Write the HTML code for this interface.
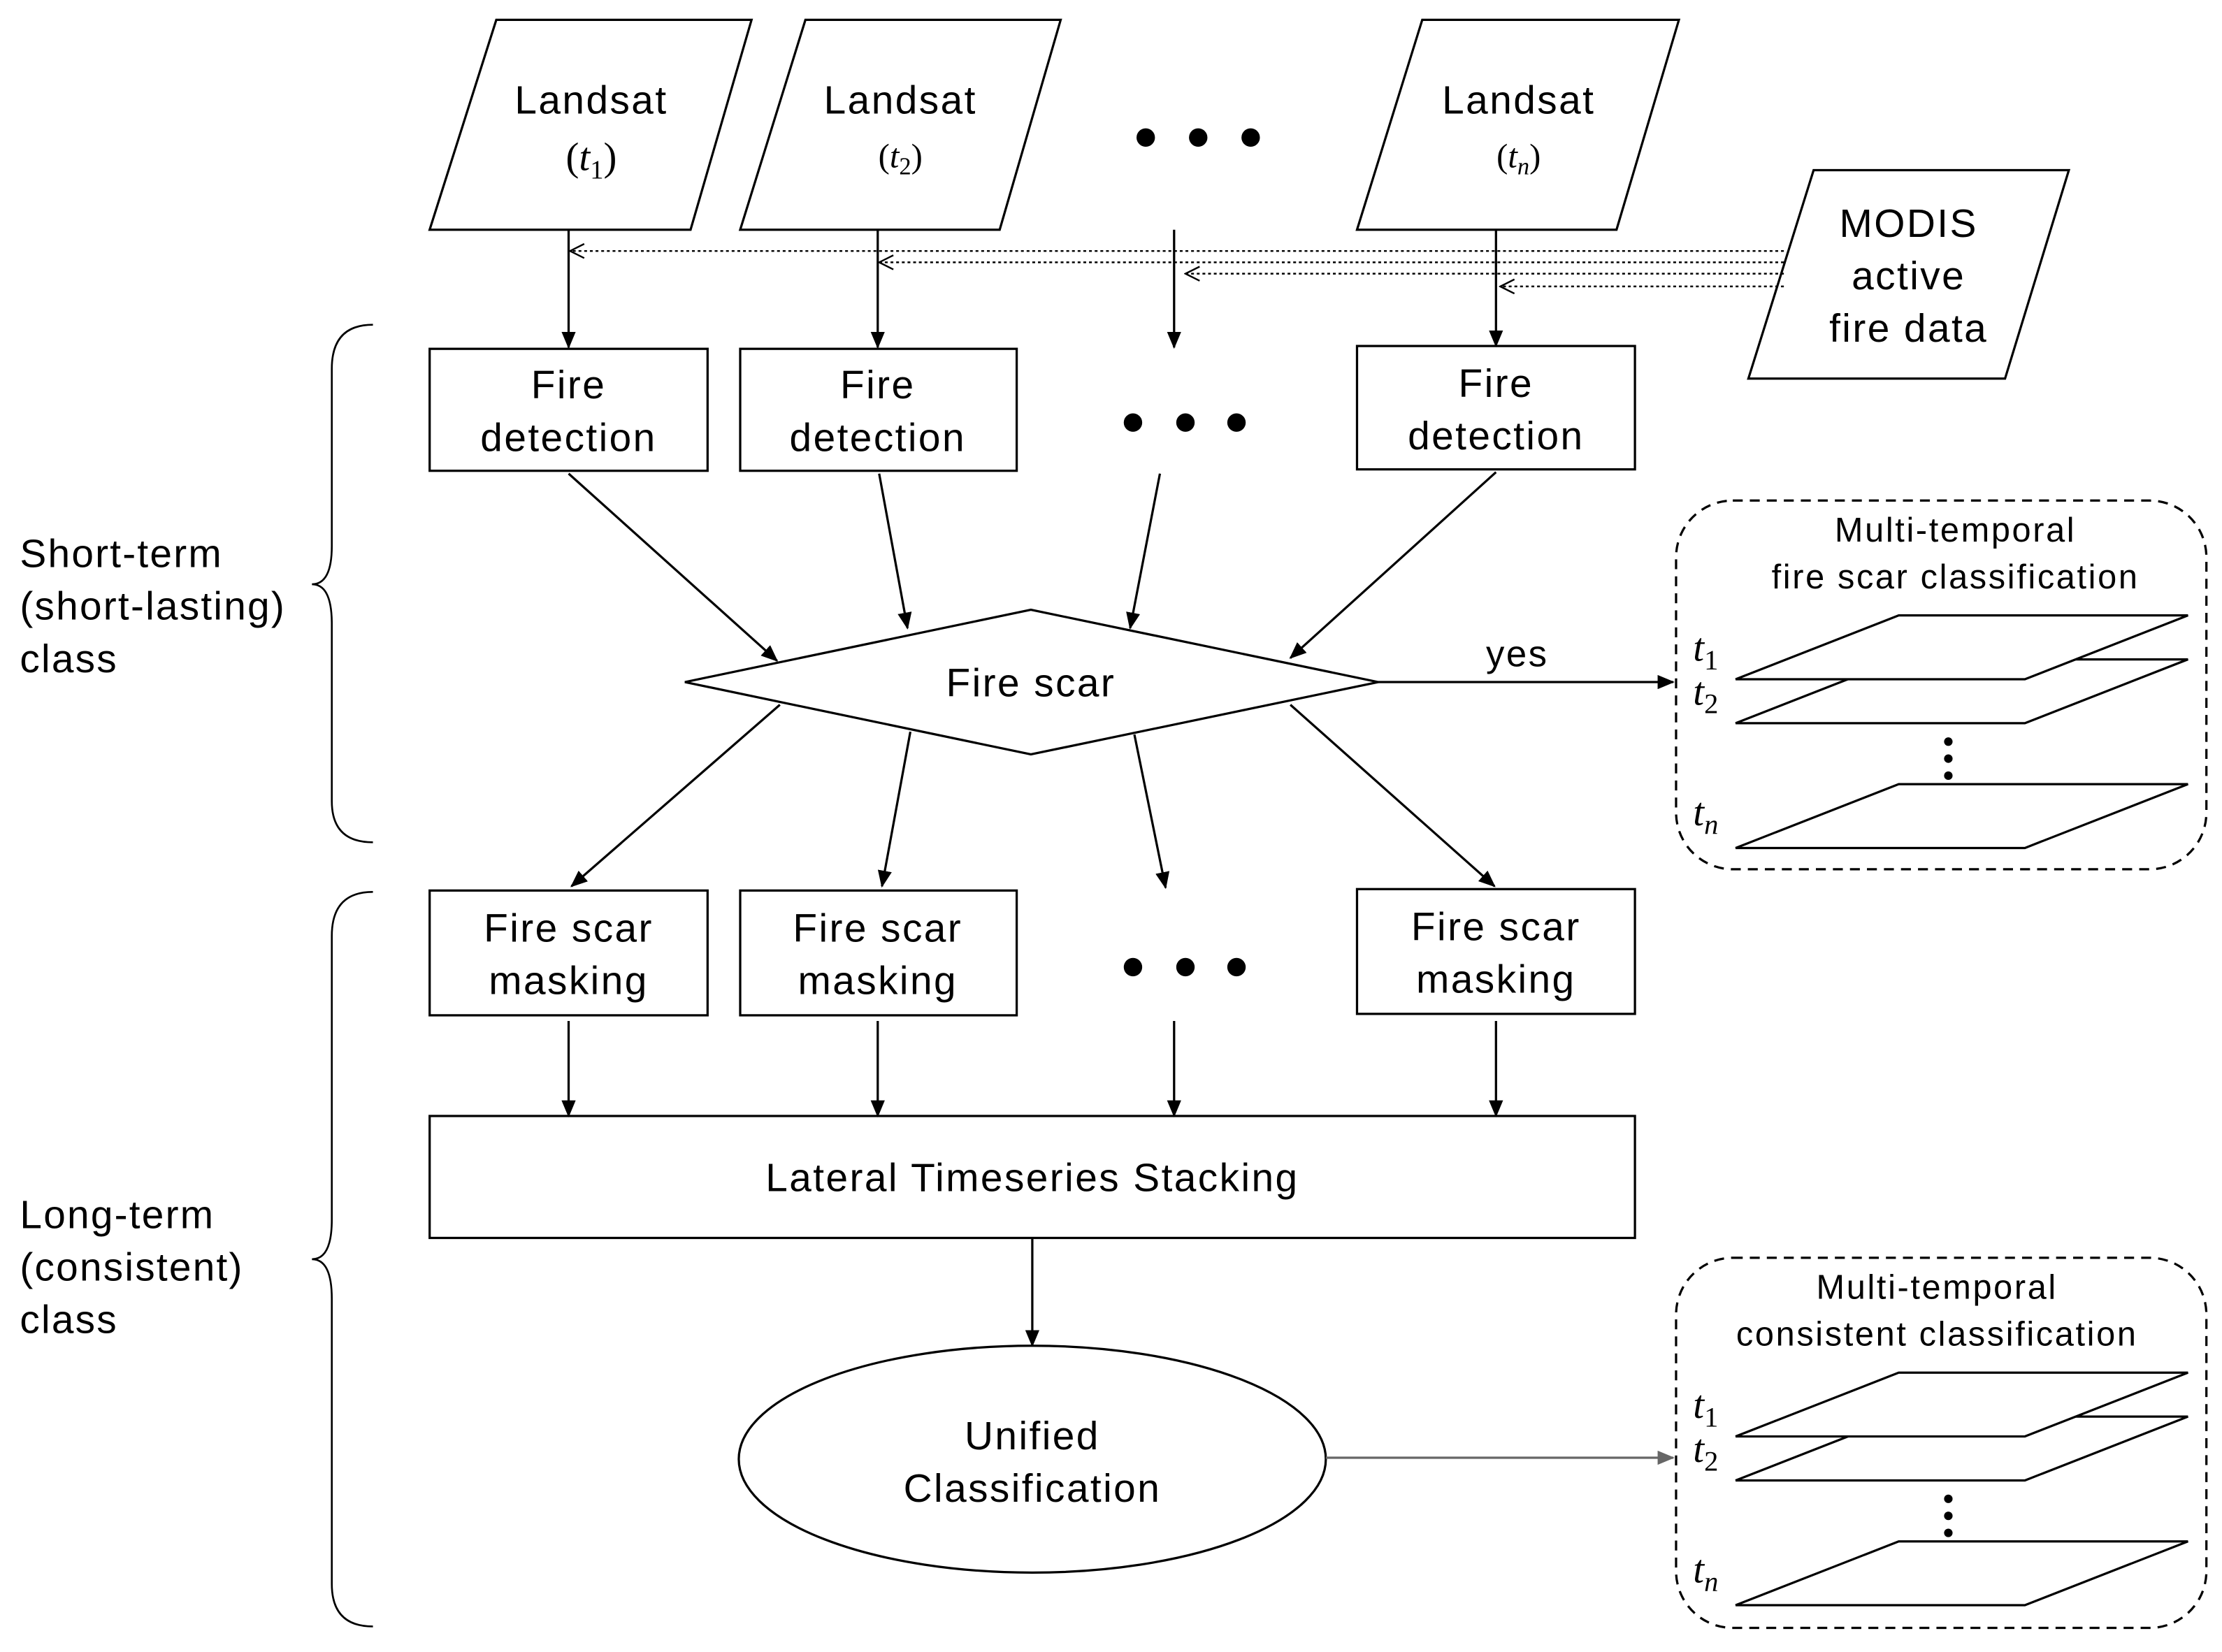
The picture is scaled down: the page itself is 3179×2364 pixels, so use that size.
<!DOCTYPE html>
<html><head><meta charset="utf-8"><style>html,body{margin:0;padding:0;background:#fff}svg{display:block}</style></head>
<body>
<svg width="3179" height="2364" viewBox="0 0 1567 1165" preserveAspectRatio="none" xmlns="http://www.w3.org/2000/svg" font-family="Liberation Sans, Arial, sans-serif">
<defs>
<marker id="a" markerWidth="12" markerHeight="10" refX="11" refY="5" orient="auto" markerUnits="userSpaceOnUse"><path d="M0,0 L12,5 L0,10 Z" fill="#000"/></marker>
<marker id="g" markerWidth="12" markerHeight="10" refX="11" refY="5" orient="auto" markerUnits="userSpaceOnUse"><path d="M0,0 L12,5 L0,10 Z" fill="#666"/></marker>
<marker id="o" markerWidth="12" markerHeight="12" refX="11" refY="6" orient="auto" markerUnits="userSpaceOnUse"><path d="M1,1 L11,6 L1,11" fill="none" stroke="#000" stroke-width="1.2"/></marker>
</defs>
<g fill="#fff" stroke="#000" stroke-width="1.6">
<polygon points="350,14 530,14 487,162 303,162"/>
<polygon points="568,14 748,14 705,162 522,162"/>
<polygon points="1003,14 1184,14 1140,162 957,162"/>
<polygon points="1279,120 1459,120 1414,267 1233,267"/>
<rect x="303" y="246" width="196" height="86"/>
<rect x="522" y="246" width="195" height="86"/>
<rect x="957" y="244" width="196" height="87"/>
<polygon points="483,481 727,430 972,481 727,532"/>
<rect x="303" y="628" width="196" height="88"/>
<rect x="522" y="628" width="195" height="88"/>
<rect x="957" y="627" width="196" height="88"/>
<rect x="303" y="787" width="850" height="86"/>
<ellipse cx="728" cy="1029" rx="207" ry="80"/>
</g>
<g fill="#000">
<circle cx="808" cy="97" r="6.5"/><circle cx="845" cy="97" r="6.5"/><circle cx="882" cy="97" r="6.5"/>
<circle cx="799" cy="298" r="6.5"/><circle cx="836" cy="298" r="6.5"/><circle cx="872" cy="298" r="6.5"/>
<circle cx="799" cy="682" r="6.5"/><circle cx="836" cy="682" r="6.5"/><circle cx="872" cy="682" r="6.5"/>
</g>
<g stroke="#000" stroke-width="1.2" stroke-dasharray="2,2" fill="none">
<line x1="1258" y1="177" x2="402" y2="177" marker-end="url(#o)"/>
<line x1="1258" y1="185" x2="620" y2="185" marker-end="url(#o)"/>
<line x1="1258" y1="193" x2="836" y2="193" marker-end="url(#o)"/>
<line x1="1258" y1="202" x2="1058" y2="202" marker-end="url(#o)"/>
</g>
<g stroke="#000" stroke-width="1.6" fill="none" marker-end="url(#a)">
<line x1="401" y1="162" x2="401" y2="245"/>
<line x1="619" y1="162" x2="619" y2="245"/>
<line x1="828" y1="162" x2="828" y2="245"/>
<line x1="1055" y1="162" x2="1055" y2="244"/>
<line x1="401" y1="334" x2="548" y2="466"/>
<line x1="620" y1="334" x2="640" y2="443"/>
<line x1="818" y1="334" x2="797" y2="443"/>
<line x1="1055" y1="333" x2="910" y2="464"/>
<line x1="972" y1="481" x2="1180" y2="481"/>
<line x1="550" y1="497" x2="403" y2="625"/>
<line x1="642" y1="516" x2="622" y2="625"/>
<line x1="800" y1="518" x2="822" y2="626"/>
<line x1="910" y1="497" x2="1054" y2="625"/>
<line x1="401" y1="720" x2="401" y2="787"/>
<line x1="619" y1="720" x2="619" y2="787"/>
<line x1="828" y1="720" x2="828" y2="787"/>
<line x1="1055" y1="720" x2="1055" y2="787"/>
<line x1="728" y1="873" x2="728" y2="949"/>
</g>
<line x1="935" y1="1028" x2="1180" y2="1028" stroke="#666" stroke-width="1.6" marker-end="url(#g)"/>
<g fill="none" stroke="#000" stroke-width="1.6" stroke-dasharray="7,5">
<rect x="1182" y="353" width="374" height="260" rx="40"/>
<rect x="1182" y="887" width="374" height="261" rx="40"/>
</g>
<g fill="#fff" stroke="#000" stroke-width="1.6">
<polygon points="1339,465 1543,465 1428,510 1224,510"/>
<polygon points="1339,434 1543,434 1428,479 1224,479"/>
<polygon points="1339,553 1543,553 1428,598 1224,598"/>
<polygon points="1339,999 1543,999 1428,1044 1224,1044"/>
<polygon points="1339,968 1543,968 1428,1013 1224,1013"/>
<polygon points="1339,1087 1543,1087 1428,1132 1224,1132"/>
</g>
<g fill="#000">
<circle cx="1374" cy="523" r="3"/><circle cx="1374" cy="535" r="3"/><circle cx="1374" cy="547" r="3"/>
<circle cx="1374" cy="1057" r="3"/><circle cx="1374" cy="1069" r="3"/><circle cx="1374" cy="1081" r="3"/>
</g>
<g fill="none" stroke="#000" stroke-width="1.3">
<path d="M263,229 Q234,229 234,260 L234,385 Q234,412 220,412 Q234,412 234,440 L234,565 Q234,594 263,594"/>
<path d="M263,629 Q234,629 234,660 L234,860 Q234,888 220,888 Q234,888 234,916 L234,1117 Q234,1147 263,1147"/>
</g>
<g font-size="28" letter-spacing="1.2" text-anchor="middle" fill="#000">
<text x="417" y="80">Landsat</text>
<text x="635" y="80">Landsat</text>
<text x="1071" y="80">Landsat</text>
<text x="1346" y="167">MODIS</text>
<text x="1346" y="204">active</text>
<text x="1346" y="241">fire data</text>
<text x="401" y="281">Fire</text><text x="401" y="318">detection</text>
<text x="619" y="281">Fire</text><text x="619" y="318">detection</text>
<text x="1055" y="280">Fire</text><text x="1055" y="317">detection</text>
<text x="727" y="491">Fire scar</text>
<text x="1070" y="470" font-size="26">yes</text>
<text x="401" y="664">Fire scar</text><text x="401" y="701">masking</text>
<text x="619" y="664">Fire scar</text><text x="619" y="701">masking</text>
<text x="1055" y="663">Fire scar</text><text x="1055" y="700">masking</text>
<text x="728" y="840">Lateral Timeseries Stacking</text>
<text x="728" y="1022">Unified</text>
<text x="728" y="1059">Classification</text>
<text x="1379" y="382" font-size="24" letter-spacing="1.3">Multi-temporal</text>
<text x="1379" y="415" font-size="24" letter-spacing="1.3">fire scar classification</text>
<text x="1366" y="916" font-size="24" letter-spacing="1.3">Multi-temporal</text>
<text x="1366" y="949" font-size="24" letter-spacing="1.3">consistent classification</text>
</g>
<g font-size="28" letter-spacing="1.1" fill="#000">
<text x="14" y="400">Short-term</text><text x="14" y="437">(short-lasting)</text><text x="14" y="474">class</text>
<text x="14" y="866">Long-term</text><text x="14" y="903">(consistent)</text><text x="14" y="940">class</text>
</g>
<g font-family="Liberation Serif, serif" font-style="italic" fill="#000" text-anchor="middle">
<text x="417" y="120" font-size="28"><tspan font-style="normal">(</tspan>t<tspan font-size="19" font-style="normal" dy="6">1</tspan><tspan font-style="normal" dy="-6">)</tspan></text>
<text x="635" y="118" font-size="24"><tspan font-style="normal">(</tspan>t<tspan font-size="17" font-style="normal" dy="5">2</tspan><tspan font-style="normal" dy="-5">)</tspan></text>
<text x="1071" y="118" font-size="24"><tspan font-style="normal">(</tspan>t<tspan font-size="17" dy="5">n</tspan><tspan font-style="normal" dy="-5">)</tspan></text>
</g>
<g font-family="Liberation Serif, serif" font-style="italic" fill="#000" font-size="28">
<text x="1194" y="466">t<tspan font-size="20" font-style="normal" dy="6">1</tspan></text>
<text x="1194" y="497">t<tspan font-size="20" font-style="normal" dy="6">2</tspan></text>
<text x="1194" y="582">t<tspan font-size="20" dy="6">n</tspan></text>
<text x="1194" y="1000">t<tspan font-size="20" font-style="normal" dy="6">1</tspan></text>
<text x="1194" y="1031">t<tspan font-size="20" font-style="normal" dy="6">2</tspan></text>
<text x="1194" y="1116">t<tspan font-size="20" dy="6">n</tspan></text>
</g>
</svg>
</body></html>
